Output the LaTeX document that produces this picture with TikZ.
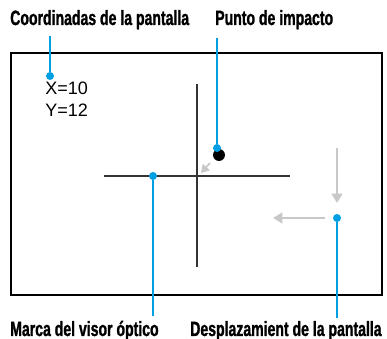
\documentclass[tikz,border=0pt]{standalone}
\usepackage{fontspec}
\setmainfont{Liberation Sans}
\newfontfamily\condfont[FakeStretch=0.68, BoldFeatures={FakeBold=1.2}]{Liberation Sans}
\usetikzlibrary{arrows.meta}
\definecolor{callblue}{HTML}{009FE3}
\definecolor{shiftgray}{HTML}{C8C8C8}

\begin{document}
\begin{tikzpicture}[x=0.75pt, y=-0.75pt,
    caption/.style={font=\condfont\bfseries\fontsize{15.5}{18}\selectfont, anchor=base west, inner sep=0pt},
    pin/.style={circle, fill=callblue, inner sep=0pt, minimum size=6pt},
    lead/.style={draw=callblue, line width=1.9pt},
    hair/.style={draw=black!80, line width=0.8pt},
    move/.style={-{Triangle[length=7pt,width=8pt]}, draw=shiftgray, line width=1.6pt}]
  \useasboundingbox (0,0) rectangle (387,339);

  % ---- the screen and the reticle
  \draw[line width=1.6pt] (11,53) rectangle (382,295);
  \coordinate (vT) at (197,84);
  \coordinate (vB) at (197,267);
  \coordinate (hL) at (104,176);
  \coordinate (hR) at (290,176);
  \draw[hair] (vT) -- (vB);
  \draw[hair] (hL) -- (hR);

  % ---- coordinates readout
  \node[font=\fontsize{13.5}{17}\selectfont, anchor=base west, inner sep=0pt, align=left]
    (xy) at (45,117) {X=10\\Y=12};

  % ---- impact point and its shift
  \node[circle, fill=black, inner sep=0pt, minimum size=9pt] (hit) at (219,155) {};
  \coordinate (dTail) at (210,163);
  \coordinate (dTip) at (201,173);
  \draw[move, line width=1.3pt, -{Triangle[length=6pt,width=7pt]}] (dTail) -- (dTip);
  \coordinate (sTop) at (337,148);
  \coordinate (sDown) at (337,203);
  \coordinate (sStart) at (325,218);
  \coordinate (sLeft) at (273,218);
  \draw[move] (sTop) -- (sDown);
  \draw[move] (sStart) -- (sLeft);

  % ---- callout dots
  \node[pin] (pCoord) at (50,76) {};
  \node[pin] (pHit) at (217,148) {};
  \node[pin] (pMark) at (153,176) {};
  \node[pin] (pShift) at (337,218) {};

  % ---- captions
  \node[caption] (cCoord) at (10,25) {Coordinadas de la pantalla};
  \node[caption] (cHit) at (215,25) {Punto de impacto};
  \node[caption] (cMark) at (10,336) {Marca del visor óptico};
  \node[caption] (cShift) at (190,336) {Desplazamient de la pantalla};

  % ---- leader lines
  \coordinate (eCoord) at (50,36);
  \coordinate (eHit) at (217,38);
  \coordinate (eMark) at (153,316);
  \coordinate (eShift) at (337,318);
  \draw[lead] (eCoord) -- (pCoord);
  \draw[lead] (eHit) -- (pHit);
  \draw[lead] (pMark) -- (eMark);
  \draw[lead] (pShift) -- (eShift);
\end{tikzpicture}
\end{document}
